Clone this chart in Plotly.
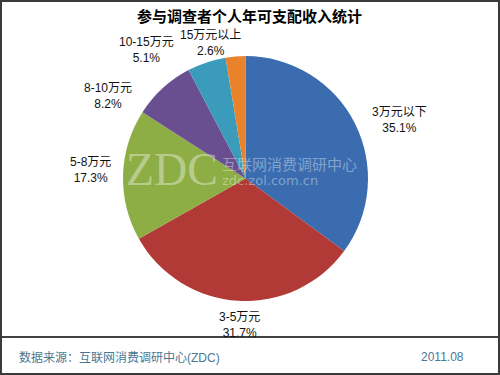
import plotly.graph_objects as go

# ---- data ----
categories = ["3万元以下", "3-5万元", "5-8万元", "8-10万元", "10-15万元", "15万元以上"]
shares = [35.1, 31.7, 17.3, 8.2, 5.1, 2.6]
title_text = "参与调查者个人年可支配收入统计"
source_text = "数据来源：互联网消费调研中心(ZDC)"
date_text = "2011.08"

# ---- style ----
colors = ["#3A6CAF", "#B23A36", "#8DAE45", "#6A4F90", "#3A9CBA", "#E8832B"]
# label anchor positions in pixels (x, y from top)
label_px = [(399, 120), (239, 325), (90, 170), (108, 96), (146, 50), (210, 43)]
W, H = 500, 375
FONT = "Liberation Sans, Noto Sans CJK SC, sans-serif"

fig = go.Figure()
fig.add_trace(go.Pie(
    labels=categories,
    values=shares,
    sort=False,
    direction="clockwise",
    rotation=0,
    marker=dict(colors=colors, line=dict(width=0)),
    textinfo="none",
    hoverinfo="label+percent",
    showlegend=False,
    domain=dict(x=[123 / W, 368 / W], y=[1 - 301 / H, 1 - 56 / H]),
))

annotations = []
for cat, val, (px, py) in zip(categories, shares, label_px):
    annotations.append(dict(
        x=px / W, y=1 - py / H, xref="paper", yref="paper",
        text=f"{cat}<br>{val:.1f}%", showarrow=False,
        font=dict(family=FONT, size=12, color="#111111"),
        xanchor="center", yanchor="middle", align="center", borderpad=0,
    ))

# title
annotations.append(dict(
    x=249 / W, y=1 - 16 / H, xref="paper", yref="paper",
    text=f"<b>{title_text}</b>", showarrow=False,
    font=dict(family="Noto Sans CJK SC, sans-serif", size=15, color="#000000"),
    xanchor="center", yanchor="middle", borderpad=0,
))
# footer
annotations.append(dict(
    x=17 / W, y=1 - 357 / H, xref="paper", yref="paper",
    text=source_text, showarrow=False,
    font=dict(family=FONT, size=12, color="#4A7892"),
    xanchor="left", yanchor="middle",
))
annotations.append(dict(
    x=466 / W, y=1 - 357 / H, xref="paper", yref="paper",
    text=date_text, showarrow=False,
    font=dict(family=FONT, size=12, color="#4A7892"),
    xanchor="right", yanchor="middle",
))
# watermark
annotations.append(dict(
    x=172 / W, y=1 - 169 / H, xref="paper", yref="paper",
    text="ZDC", showarrow=False,
    font=dict(family="Liberation Serif, serif", size=46, color="rgba(255,255,255,0.38)"),
    xanchor="center", yanchor="middle",
))
annotations.append(dict(
    x=220 / W, y=1 - 163 / H, xref="paper", yref="paper",
    text="互联网消费调研中心", showarrow=False,
    font=dict(family="Noto Sans CJK SC, sans-serif", size=15, color="rgba(255,255,255,0.38)"),
    xanchor="left", yanchor="middle",
))
annotations.append(dict(
    x=220 / W, y=1 - 180 / H, xref="paper", yref="paper",
    text="zdc.zol.com.cn", showarrow=False,
    font=dict(family="DejaVu Sans, sans-serif", size=13, color="rgba(255,255,255,0.38)"),
    xanchor="left", yanchor="middle",
))

shapes = [
    dict(type="rect", xref="paper", yref="paper", x0=1 / W, y0=1 / H, x1=1 - 1 / W, y1=1 - 1 / H,
         line=dict(color="#3A3A3A", width=2), fillcolor="rgba(0,0,0,0)", layer="above"),
    dict(type="line", xref="paper", yref="paper", x0=2 / W, x1=1 - 2 / W,
         y0=1 - 337 / H, y1=1 - 337 / H, line=dict(color="#000000", width=1.5)),
]

fig.update_layout(
    width=W, height=H,
    margin=dict(l=0, r=0, t=0, b=0),
    paper_bgcolor="white", plot_bgcolor="white",
    annotations=annotations, shapes=shapes,
)

fig.write_html("out.html",
               config={"displayModeBar": False},
               post_script="document.body.style.margin='0';document.body.style.overflow='hidden';")
